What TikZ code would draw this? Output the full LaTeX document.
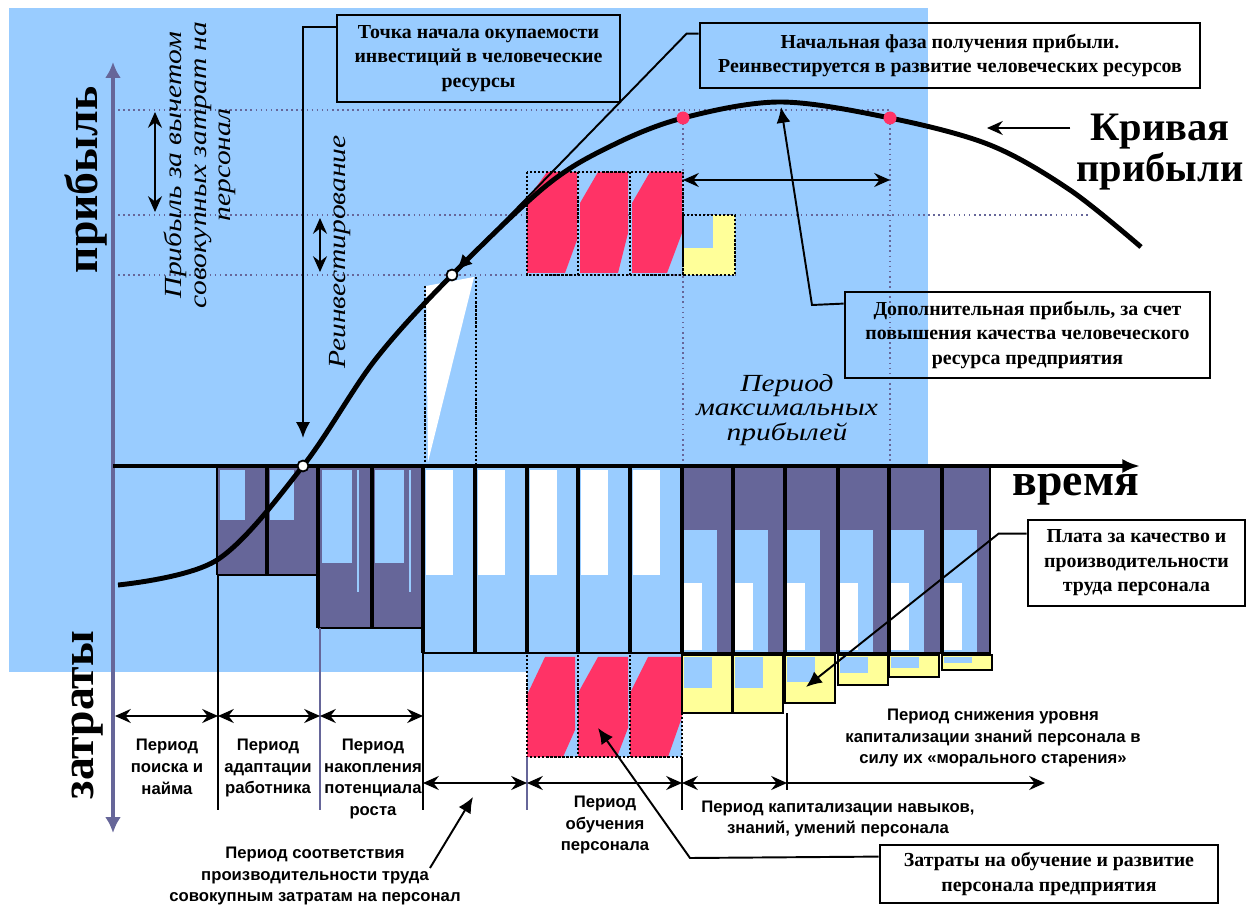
\documentclass[tikz,border=0pt]{standalone}
\usepackage{fontspec}
\setmainfont{Liberation Serif}
\newfontfamily\lblfont{Liberation Sans}
\newfontfamily\wideit[FakeStretch=1.2]{Liberation Serif}
\usetikzlibrary{arrows.meta,calc}
\definecolor{skyblue}{HTML}{99CCFF}
\definecolor{slate}{HTML}{666699}
\definecolor{rosered}{HTML}{FF3366}
\definecolor{paleyellow}{HTML}{FFFF99}
\tikzset{
  callbox/.style={draw, line width=1.6pt, align=center, inner sep=0pt,
    font=\bfseries\fontsize{11.3}{14}\selectfont},
  lbl/.style={align=center, font=\lblfont\bfseries\fontsize{9.5}{12.5}\selectfont},
  slant/.style={align=center, font=\wideit\itshape\fontsize{14}{14}\selectfont},
  bigword/.style={font=\bfseries\fontsize{26}{26}\selectfont},
  gridline/.style={slate, dotted, line width=0.9pt},
  celldots/.style={densely dotted, line width=1.3pt},
  divider/.style={line width=2.2pt},
  barline/.style={line width=1.3pt},
  sepline/.style={line width=0.7pt},
  spanarrow/.style={{Stealth[length=9pt,width=8pt,inset=3pt]}-{Stealth[length=9pt,width=8pt,inset=3pt]}, line width=0.9pt},
  onearrow/.style={-{Stealth[length=9pt,width=8pt,inset=3pt]}, line width=0.9pt},
  callout/.style={-{Latex[length=9pt,width=8pt]}, line width=1.1pt},
  whitedot/.style={circle, draw, fill=white, line width=1pt, minimum size=0.22cm, inner sep=0pt},
  reddot/.style={circle, fill=rosered, minimum size=0.26cm, inner sep=0pt}
}
\begin{document}
\begin{tikzpicture}[x=0.02cm, y=-0.02cm]
\useasboundingbox (0,0) rectangle (1252,905);
% background
\fill[skyblue] (9,8) rectangle (928,466);
\fill[skyblue] (9,466) rectangle (527,672);
\fill[skyblue] (527,466) rectangle (682,757);
% profit levels
\draw[gridline] (118,110) -- (890,110);
\draw[gridline] (118,215) -- (1088,215);
\draw[gridline] (118,275) -- (735,275);
\draw[gridline] (683,118) -- (683,466);
\draw[gridline] (890,118) -- (890,466);
% extra profit cells
\fill[rosered] (547,172) -- (577,172) -- (577,240) -- (565,273) -- (527,273) -- (527,200) -- cycle;
\fill[rosered] (598,172) -- (628,172) -- (628,233) -- (618,273) -- (580,273) -- (580,203) -- cycle;
\fill[rosered] (650,172) -- (682,172) -- (682,233) -- (667,273) -- (632,273) -- (632,203) -- cycle;
\fill[paleyellow] (683,215) rectangle (735,275);
\fill[skyblue] (683,215) rectangle (713,248);
\draw[celldots] (527,172) rectangle (683,275);
\draw[celldots] (578,172) -- (578,275) (630,172) -- (630,275);
\draw[celldots] (683,215) rectangle (735,275);
% reinvestment wedge
\fill[white] (426,286) -- (474,277) -- (428,462) -- cycle;
\draw[celldots] (425,286) -- (425,462);
\draw[celldots] (476,277) -- (476,466);
% cost bars
\fill[slate] (217,467) rectangle (318,575);
\fill[skyblue] (220,470) rectangle (245,520);
\fill[skyblue] (270,470) rectangle (294,520);
\fill[slate] (318,467) rectangle (423,628);
\fill[skyblue] (322,470) rectangle (352,563);
\fill[skyblue] (375,470) rectangle (404,563);
\fill[skyblue] (357,470) rectangle (359,592);
\fill[skyblue] (409,470) rectangle (411,592);
\foreach \x in {423,475,527,578,630}
  \fill[white] (\x+3,470) rectangle (\x+30,575);
\fill[slate] (682,467) rectangle (990,654);
\foreach \x in {682,733,785,838,889,942} {
  \fill[skyblue] (\x+2,530) rectangle (\x+35,653);
  \fill[white] (\x+2,583) rectangle (\x+20,650);
}
\draw[sepline] (217,467) -- (217,575);
\foreach \x/\b in {267/575,318/628,372/628,423/653,475/653,527/653,578/653,630/653,682/654,733/654,785/654,838/654,889/654,942/654}
  \draw[divider] (\x,467) -- (\x,\b);
\draw[barline] (990,467) -- (990,654);
\draw[barline] (217,575) -- (318,575);
\draw[barline] (318,628) -- (423,628);
\draw[barline] (423,653) -- (990,653);
% training cells
\fill[rosered] (545,657) -- (575,657) -- (575,730) -- (563,757) -- (527,757) -- (527,695) -- cycle;
\fill[rosered] (598,657) -- (628,657) -- (628,728) -- (617,757) -- (578,757) -- (578,693) -- cycle;
\fill[rosered] (648,657) -- (682,657) -- (682,717) -- (668,757) -- (630,757) -- (630,693) -- cycle;
\draw[celldots] (527,655) -- (527,757) -- (682,757) -- (682,655);
\draw[celldots] (578,655) -- (578,757) (630,655) -- (630,757);
% quality payment cells
\foreach \x/\b/\c in {682/713/688,733/713/688,785/703/682,838/685/673,889/677/668,942/670/663} {
  \fill[paleyellow] (\x,655) rectangle (\x+50,\b);
  \fill[skyblue] (\x+2,657) rectangle (\x+30,\c);
  \draw[barline] (\x,655) rectangle (\x+50,\b);
}
% axes
\draw[slate, line width=2.2pt, {Latex[length=9pt,width=9pt]}-{Latex[length=9pt,width=9pt]}] (113,833) -- (113,62);
\draw[line width=2pt, -{Latex[length=10pt,width=8pt]}] (113,466) -- (1140,466);
% periods
\draw[sepline] (218,575) -- (218,810);
\draw[slate, line width=1.2pt] (320,628) -- (320,810);
\draw[sepline] (423,653) -- (423,810);
\draw[slate, line width=1pt] (527,757) -- (527,810);
\draw[sepline] (682,757) -- (682,810);
\draw[sepline] (787,713) -- (787,790);
\draw[spanarrow] (115,716) -- (218,716);
\draw[spanarrow] (218,716) -- (320,716);
\draw[spanarrow] (320,716) -- (423,716);
\draw[spanarrow] (423,783) -- (527,783);
\draw[spanarrow] (527,783) -- (682,783);
\draw[spanarrow] (682,783) -- (787,783);
\draw[onearrow] (787,783) -- (1045,783);
\draw[spanarrow] (155,112) -- (155,212);
\draw[spanarrow] (320,218) -- (320,272);
\draw[spanarrow] (683,180) -- (890,180);
% profit curve
\draw[line width=2.8pt] plot[smooth, tension=0.55] coordinates {(118,585) (217,560) (303,466) (375,360) (452,275) (547,185) (613,145) (683,118) (780,102) (890,118) (990,145) (1070,190) (1141,247)};
\node[whitedot] (payback) at (303,466) {};
\node[whitedot] (reinv) at (452,275) {};
\node[reddot] (maxstart) at (683,118) {};
\node[reddot] (maxend) at (890,118) {};
\coordinate (peak) at (781,107);
\coordinate (curvept) at (987,128);
\coordinate (qualtip) at (806,687);
\coordinate (traintip) at (598,728);
\coordinate (matchfoot) at (430,868);
\coordinate (matchtip) at (473,797);
% texts
\node[bigword, rotate=90] (profit) at (86,180) {прибыль};
\node[bigword, rotate=90] (costs) at (88,715) {затраты};
\node[bigword] (time) at (1076,490) {время};
\node[font=\bfseries\fontsize{23}{23}\selectfont, align=center] (curvelbl) at (1160,152) {Кривая\\прибыли};
\node[slant, rotate=90] (netprofit) at (200,165) {Прибыль за вычетом\\совокупных затрат на\\персонал};
\node[slant, rotate=90] (reinvlbl) at (340,252) {Реинвестирование};
\node[slant] (maxlbl) at (787,410) {Период\\максимальных\\прибылей};
\node[lbl] (search) at (167,767) {Период\\поиска и\\найма};
\node[lbl] (adapt) at (268,768) {Период\\адаптации\\работника};
\node[lbl] (accum) at (373,779) {Период\\накопления\\потенциала\\роста};
\node[lbl] (match) at (315,876) {Период соответствия\\производительности труда\\совокупным затратам на персонал};
\node[lbl] (training) at (605,825) {Период\\обучения\\персонала};
\node[lbl] (capital) at (838,819) {Период капитализации навыков,\\знаний, умений персонала};
\node[lbl] (decline) at (993,738) {Период снижения уровня\\капитализации знаний персонала в\\силу их «морального старения»};
% callouts
\node[callbox, minimum width=5.66cm, minimum height=1.74cm] (box1) at (478.5,58.5) {Точка начала окупаемости\\инвестиций в человеческие\\ресурсы};
\node[callbox, minimum width=10cm, minimum height=1.3cm] (box2) at (950,55.5) {Начальная фаза получения прибыли.\\Реинвестируется в развитие человеческих ресурсов};
\node[callbox, minimum width=7.3cm, minimum height=1.72cm] (box3) at (1027.5,335) {Дополнительная прибыль, за счет\\повышения качества человеческого\\ресурса предприятия};
\node[callbox, minimum width=4.34cm, minimum height=1.72cm] (box4) at (1136.5,563) {Плата за качество и\\производительности\\труда персонала};
\node[callbox, minimum width=6.76cm, minimum height=1.16cm] (box5) at (1049,874) {Затраты на обучение и развитие\\персонала предприятия};
\draw[callout] ($(box1.north west)+(0,13)$) -| ($(payback)+(0,-28)$);
\draw[callout] ($(box2.north west)+(0,12)$) -- ++(-12,0) -- (reinv);
\draw[callout] ($(box3.north west)+(0,13)$) -- (812,305) -- (peak);
\draw[onearrow, line width=1.2pt] (curvelbl.west |- curvept) -- (curvept);
\draw[callout] ($(box4.north west)+(0,15)$) -- ++(-28,0) -- (qualtip);
\draw[callout] ($(box5.north west)+(0,13)$) -- (690,858) -- (traintip);
\draw[callout] (matchfoot) -- (matchtip);
\end{tikzpicture}
\end{document}
